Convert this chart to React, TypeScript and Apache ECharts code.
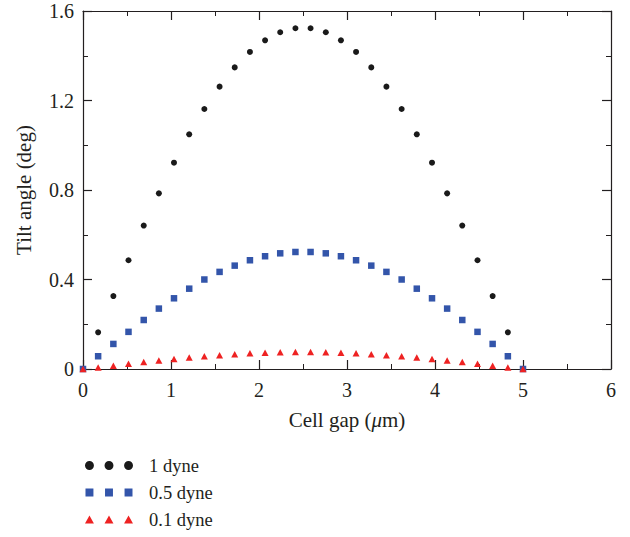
import React, { useEffect, useRef } from "react";
import * as echarts from "echarts";

const xValues = [0, 0.172, 0.345, 0.517, 0.69, 0.862, 1.034, 1.207, 1.379, 1.552, 1.724, 1.897, 2.069, 2.241, 2.414, 2.586, 2.759, 2.931, 3.103, 3.276, 3.448, 3.621, 3.793, 3.966, 4.138, 4.31, 4.483, 4.655, 4.828, 5.0];
const dyne1 = [0, 0.164, 0.326, 0.486, 0.641, 0.785, 0.922, 1.049, 1.162, 1.262, 1.348, 1.417, 1.469, 1.505, 1.523, 1.523, 1.505, 1.469, 1.417, 1.348, 1.262, 1.162, 1.049, 0.922, 0.785, 0.641, 0.486, 0.326, 0.164, 0];
const dyne05 = [0, 0.057, 0.112, 0.166, 0.219, 0.27, 0.316, 0.359, 0.4, 0.434, 0.462, 0.486, 0.504, 0.517, 0.523, 0.523, 0.517, 0.504, 0.486, 0.462, 0.434, 0.4, 0.359, 0.316, 0.27, 0.219, 0.166, 0.112, 0.057, 0];
const dyne01 = [0, 0.007, 0.015, 0.023, 0.031, 0.038, 0.045, 0.051, 0.057, 0.062, 0.066, 0.07, 0.073, 0.075, 0.076, 0.076, 0.075, 0.073, 0.07, 0.066, 0.062, 0.057, 0.051, 0.045, 0.038, 0.031, 0.023, 0.015, 0.007, 0];
const seriesNames = ["1 dyne", "0.5 dyne", "0.1 dyne"];

const FONT = "Liberation Serif";
const TXT = "#231f20";

const circleIcon =
  "path://M0,4.5A4.5,4.5,0,1,1,9,4.5A4.5,4.5,0,1,1,0,4.5Z M19.7,4.5A4.5,4.5,0,1,1,28.7,4.5A4.5,4.5,0,1,1,19.7,4.5Z M39.4,4.5A4.5,4.5,0,1,1,48.4,4.5A4.5,4.5,0,1,1,39.4,4.5Z";
const squareIcon =
  "path://M0.5,0.5h8v8h-8z M20.2,0.5h8v8h-8z M39.9,0.5h8v8h-8z M0,0h0.01v0.01h-0.01z M48.4,9h0.01v0.01h-0.01z";
const triIcon =
  "path://M4.5,0.5L9,8.5L0,8.5Z M24.2,0.5L28.7,8.5L19.7,8.5Z M43.9,0.5L48.4,8.5L39.4,8.5Z M0,0h0.01v0.01h-0.01z M48.4,9h0.01v0.01h-0.01z";

function zip(ys: number[]) {
  return xValues.map((x, i) => [x, ys[i]]);
}

export default function App() {
  const ref = useRef<HTMLDivElement>(null);
  useEffect(() => {
    if (!ref.current) return;
    const chart = echarts.init(ref.current, null, { renderer: "svg" });
    const axisCommon = {
      axisLine: { show: true, onZero: false, lineStyle: { color: "#231f20", width: 1.2 } },
      axisTick: { show: true, inside: true, length: 9, lineStyle: { color: "#231f20", width: 1.2 } },
      minorTick: { show: true, splitNumber: 2, length: 5, lineStyle: { color: "#231f20", width: 1 } },
      splitLine: { show: false },
    };
    chart.setOption({
      animation: false,
      backgroundColor: "#ffffff",
      grid: { left: 83, right: 19, top: 11, bottom: 168, containLabel: false },
      legend: {
        orient: "vertical",
        left: 85,
        top: 456,
        padding: 0,
        itemWidth: 48,
        itemHeight: 9,
        itemGap: 8,
        textStyle: { fontFamily: FONT, fontSize: 18.5, color: TXT, lineHeight: 19, padding: [0, 0, 0, 11] },
        data: [
          { name: seriesNames[0], icon: circleIcon },
          { name: seriesNames[1], icon: squareIcon },
          { name: seriesNames[2], icon: triIcon },
        ],
      },
      xAxis: [
        {
          type: "value",
          position: "bottom",
          min: 0,
          max: 6,
          interval: 1,
          ...axisCommon,
          axisLabel: { fontFamily: FONT, fontSize: 20, color: TXT, margin: 11 },
          name: "Cell gap ({i|μ}m)",
          nameLocation: "middle",
          nameGap: 40,
          nameTextStyle: {
            fontFamily: FONT,
            fontSize: 21,
            color: TXT,
            rich: { i: { fontFamily: FONT, fontSize: 21, fontStyle: "italic", color: TXT } },
          },
        },
        {
          type: "value",
          position: "top",
          min: 0,
          max: 6,
          interval: 1,
          ...axisCommon,
          axisLabel: { show: false },
        },
      ],
      yAxis: [
        {
          type: "value",
          position: "left",
          min: 0,
          max: 1.6,
          interval: 0.4,
          ...axisCommon,
          axisLabel: { fontFamily: FONT, fontSize: 20, color: TXT, margin: 9 },
          name: "Tilt angle (deg)",
          nameLocation: "middle",
          nameGap: 49,
          nameTextStyle: { fontFamily: FONT, fontSize: 21, color: TXT },
        },
        {
          type: "value",
          position: "right",
          min: 0,
          max: 1.6,
          interval: 0.4,
          ...axisCommon,
          axisLabel: { show: false },
        },
      ],
      series: [
        {
          name: seriesNames[0],
          type: "scatter",
          symbol: "circle",
          symbolSize: 6,
          itemStyle: { color: "#1a1a1a", opacity: 1 },
          data: zip(dyne1),
        },
        {
          name: seriesNames[1],
          type: "scatter",
          symbol: "rect",
          symbolSize: 6.5,
          itemStyle: { color: "#3355aa", opacity: 1 },
          data: zip(dyne05),
        },
        {
          name: seriesNames[2],
          type: "scatter",
          symbol: "triangle",
          symbolSize: [7, 6.5],
          itemStyle: { color: "#ee2222", opacity: 1 },
          data: zip(dyne01),
        },
      ],
    });
    return () => chart.dispose();
  }, []);
  return (
    <div
      ref={ref}
      style={{ position: "fixed", left: 0, top: 0, width: 630, height: 537 }}
    />
  );
}
